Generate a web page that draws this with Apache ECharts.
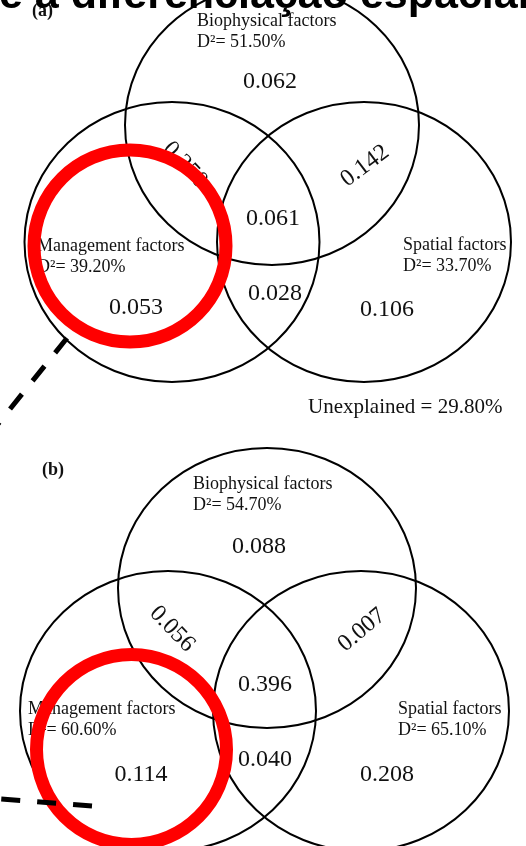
<!DOCTYPE html>
<html>
<head>
<meta charset="utf-8">
<script src="https://cdn.jsdelivr.net/npm/echarts@6/dist/echarts.min.js"></script>
<style>
  html, body { margin: 0; padding: 0; background: #fff; }
  #chart { width: 526px; height: 846px; }
</style>
</head>
<body>
<div id="chart"></div>
<script>
// ---- Data: variance partitioning (deviance explained) ----
const regionNames = ['Biophysical only', 'Biophysical + Management', 'Biophysical + Spatial',
                     'All three', 'Management only', 'Management + Spatial', 'Spatial only'];
const factorNames = ['Biophysical factors', 'Management factors', 'Spatial factors'];
const panelTags = ['(a)', '(b)'];

const regionValuesA = [0.062, 0.250, 0.142, 0.061, 0.053, 0.028, 0.106];
const regionValuesB = [0.088, 0.056, 0.007, 0.396, 0.114, 0.040, 0.208];
const devianceA = [51.50, 39.20, 33.70];
const devianceB = [54.70, 60.60, 65.10];
const unexplainedA = 29.80;

const headline = 'e a diferenciação espacial';

// ---- Layout (plot units = pixels of the 526 x 846 canvas) ----
// set ellipses: [cx, cy, rx, ry]
const setShapeA = [[272, 125, 147, 140], [172, 242, 147.5, 140], [364, 242, 147, 140]];
const setShapeB = [[267, 588, 149, 140], [168, 711, 148, 140], [361, 711, 148, 140]];
// region label anchors: [x, y, rotation in degrees (counter-clockwise)]
const regionPosA = [[270, 82, 0], [185, 165, -47], [365, 166, 37], [273, 219, 0],
                    [136, 308, 0], [275, 294, 0], [387, 310, 0]];
const regionPosB = [[259, 547, 0], [172, 629, -46], [362, 630, 40], [265, 685, 0],
                    [141, 775, 0], [265, 760, 0], [387, 775, 0]];
// factor title anchors (left edge, middle of first line): [x, y]
const factorPosA = [[197, 21], [37, 246], [403, 245]];
const factorPosB = [[193, 484], [28, 709], [398, 709]];
const tagPos = [[32, 11], [42, 470]];
const unexplainedPos = [308, 407];

// highlight rings: [cx, cy, r]
const ringShape = [[130, 246, 96], [131.5, 749.5, 95]];
// leader lines: [x1, y1, x2, y2]
const leaderShape = [[67, 338, -2, 424], [92, 806, -12, 798]];

const SERIF = '"Liberation Serif", "Times New Roman", serif';
const SANS = '"Liberation Sans", Arial, sans-serif';

function fmtValue(v) { return v.toFixed(3); }
function fmtDeviance(v) { return 'D\u00B2= ' + v.toFixed(2) + '%'; }

// Build flat data tables for the custom series
const setRows = [];
[setShapeA, setShapeB].forEach(function (shapes) {
  shapes.forEach(function (s) { setRows.push([s[0], s[1], s[2], s[3]]); });
});

const textRows = [];   // [x, y, rotDeg], with a parallel list of text specs
const textSpecs = [];
function addText(pos, rot, text, font, align) {
  textRows.push([pos[0], pos[1], rot]);
  textSpecs.push({ text: text, font: font, align: align });
}
[[regionValuesA, regionPosA], [regionValuesB, regionPosB]].forEach(function (p) {
  p[0].forEach(function (v, i) {
    addText(p[1][i], p[1][i][2], fmtValue(v), '24px ' + SERIF, 'center');
  });
});
[[devianceA, factorPosA], [devianceB, factorPosB]].forEach(function (p) {
  p[0].forEach(function (d, i) {
    const pos = p[1][i];
    addText(pos, 0, factorNames[i], '18px ' + SERIF, 'left');
    addText([pos[0], pos[1] + 21], 0, fmtDeviance(d), '18px ' + SERIF, 'left');
  });
});
panelTags.forEach(function (t, i) {
  addText(tagPos[i], 0, t, 'bold 18px ' + SERIF, 'left');
});
addText(unexplainedPos, 0, 'Unexplained = ' + unexplainedA.toFixed(2) + '%', '21px ' + SERIF, 'left');

const chart = echarts.init(document.getElementById('chart'), null, { renderer: 'canvas' });

function sizeOf(api, x, y, dx, dy) {
  const a = api.coord([x, y]);
  const b = api.coord([x + dx, y + dy]);
  return [a, Math.abs(b[0] - a[0]), Math.abs(b[1] - a[1])];
}

chart.setOption({
  animation: false,
  backgroundColor: '#ffffff',
  grid: { left: 0, right: 0, top: 0, bottom: 0 },
  xAxis: { type: 'value', min: 0, max: 526, show: false },
  yAxis: { type: 'value', min: 0, max: 846, inverse: true, show: false },
  series: [
    {
      // factor sets
      type: 'custom',
      coordinateSystem: 'cartesian2d',
      data: setRows,
      silent: true,
      renderItem: function (params, api) {
        const r = sizeOf(api, api.value(0), api.value(1), api.value(2), api.value(3));
        return {
          type: 'ellipse',
          shape: { cx: r[0][0], cy: r[0][1], rx: r[1], ry: r[2] },
          style: { fill: null, stroke: '#000', lineWidth: 2 }
        };
      },
      z: 1
    },
    {
      // region values, factor titles and captions
      type: 'custom',
      coordinateSystem: 'cartesian2d',
      data: textRows,
      silent: true,
      renderItem: function (params, api) {
        const p = api.coord([api.value(0), api.value(1)]);
        const spec = textSpecs[params.dataIndex];
        return {
          type: 'text',
          x: p[0], y: p[1],
          rotation: api.value(2) * Math.PI / 180,
          style: {
            text: spec.text, font: spec.font, fill: '#111',
            align: spec.align, verticalAlign: 'middle',
            textAlign: spec.align, textVerticalAlign: 'middle'
          }
        };
      },
      z: 2
    },
    {
      // highlight rings
      type: 'custom',
      coordinateSystem: 'cartesian2d',
      data: ringShape,
      silent: true,
      renderItem: function (params, api) {
        const r = sizeOf(api, api.value(0), api.value(1), api.value(2), api.value(2));
        return {
          type: 'ellipse',
          shape: { cx: r[0][0], cy: r[0][1], rx: r[1], ry: r[2] },
          style: { fill: null, stroke: '#ff0000', lineWidth: 13 }
        };
      },
      z: 3
    },
    {
      // dashed leader lines
      type: 'custom',
      coordinateSystem: 'cartesian2d',
      data: leaderShape,
      silent: true,
      renderItem: function (params, api) {
        const a = api.coord([api.value(0), api.value(1)]);
        const b = api.coord([api.value(2), api.value(3)]);
        return {
          type: 'line',
          shape: { x1: a[0], y1: a[1], x2: b[0], y2: b[1] },
          style: { stroke: '#000', lineWidth: 5, lineDash: [19, 17], lineCap: 'butt' }
        };
      },
      z: 3
    }
  ],
  graphic: [
    {
      type: 'text',
      left: -1,
      top: -25,
      z: 10,
      style: { text: headline, font: 'bold 43px ' + SANS, fill: '#000' }
    }
  ]
});
</script>
</body>
</html>
